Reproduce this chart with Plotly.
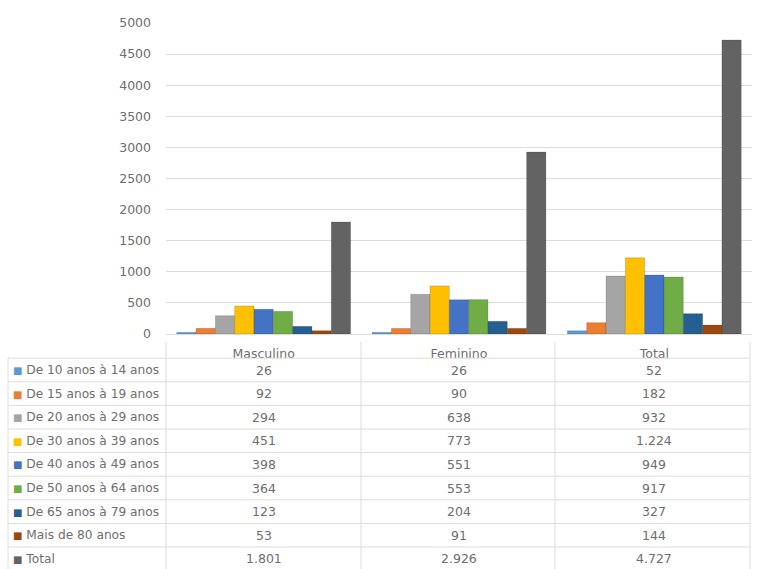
import plotly.graph_objects as go

categories = ["Masculino", "Feminino", "Total"]
series_names = [
    "De 10 anos à 14 anos",
    "De 15 anos à 19 anos",
    "De 20 anos à 29 anos",
    "De 30 anos à 39 anos",
    "De 40 anos à 49 anos",
    "De 50 anos à 64 anos",
    "De 65 anos à 79 anos",
    "Mais de 80 anos",
    "Total",
]
masculino = [26, 92, 294, 451, 398, 364, 123, 53, 1801]
feminino = [26, 90, 638, 773, 551, 553, 204, 91, 2926]
total = [52, 182, 932, 1224, 949, 917, 327, 144, 4727]
colors = ["#5B9BD5", "#ED7D31", "#A5A5A5", "#FFC000", "#4472C4",
          "#70AD47", "#255E91", "#9E480E", "#636363"]
y_ticks = [0, 500, 1000, 1500, 2000, 2500, 3000, 3500, 4000, 4500, 5000]

W, H = 757, 569
FONT = "DejaVu Sans"
TXT = "#6E6E6E"
GRID = "#DDDDDD"


def py(y):
    return 1 - y / H


def px(x):
    return x / W


def fmt(v):
    return f"{v:,}".replace(",", ".")


fig = go.Figure()
for i, name in enumerate(series_names):
    vals = [masculino[i], feminino[i], total[i]]
    fig.add_trace(go.Bar(
        x=categories, y=vals, name=name,
        marker=dict(color=colors[i], line=dict(color="rgba(0,0,0,0.25)", width=0.6)),
        showlegend=False,
    ))

plot_left, plot_right = 166, 752
plot_top, plot_bottom = 23, 334

fig.update_layout(
    template="none",
    width=W, height=H,
    margin=dict(l=0, r=0, t=0, b=0, pad=0),
    paper_bgcolor="white", plot_bgcolor="white",
    barmode="group", bargap=0.11, bargroupgap=0.0,
    font=dict(family=FONT, color=TXT, size=12),
    xaxis=dict(
        domain=[px(plot_left), px(plot_right)],
        automargin=False,
        showgrid=False, showline=False, zeroline=False,
        tickfont=dict(size=12.5, color=TXT, family=FONT),
        ticks="outside", ticklen=8, tickcolor="rgba(0,0,0,0)",
    ),
    yaxis=dict(
        domain=[py(plot_bottom), py(plot_top)],
        automargin=False,
        range=[0, 5000], tickvals=y_ticks,
        showgrid=True, gridcolor=GRID, gridwidth=1,
        zeroline=True, zerolinecolor=GRID, zerolinewidth=1,
        showline=False, ticks="",
        tickfont=dict(size=12.5, color=TXT, family=FONT),
        ticklabelstandoff=14,
    ),
)

# data table below the chart
row_y0 = 370
row_h = 23.6
table_left, table_right = 8, 750
col_edges = [166, 361, 555, 750]
header_top = 342

shapes = []
for k in range(len(series_names) + 1):
    yline = row_y0 - row_h / 2 + k * row_h
    shapes.append(dict(type="line", xref="paper", yref="paper",
                       x0=px(table_left), x1=px(table_right),
                       y0=py(yline), y1=py(yline),
                       line=dict(color=GRID, width=1)))
ybot = row_y0 - row_h / 2 + len(series_names) * row_h
for xe in col_edges:
    shapes.append(dict(type="line", xref="paper", yref="paper",
                       x0=px(xe), x1=px(xe), y0=py(header_top), y1=py(ybot),
                       line=dict(color=GRID, width=1)))
shapes.append(dict(type="line", xref="paper", yref="paper",
                   x0=px(table_left), x1=px(table_left),
                   y0=py(row_y0 - row_h / 2), y1=py(ybot),
                   line=dict(color=GRID, width=1)))

annotations = []
cols = [masculino, feminino, total]
for k, name in enumerate(series_names):
    yc = py(row_y0 + k * row_h)
    annotations.append(dict(
        xref="paper", yref="paper", x=px(11), y=yc, xanchor="left", yanchor="middle",
        text=f"<span style='color:{colors[k]};font-size:10px'>■</span> {name}",
        showarrow=False, font=dict(size=12.2, color=TXT, family=FONT),
    ))
    for c, cat in enumerate(categories):
        annotations.append(dict(
            xref="x", yref="paper", x=cat, y=yc, xanchor="center", yanchor="middle",
            text=fmt(cols[c][k]), showarrow=False,
            font=dict(size=12.5, color=TXT, family=FONT),
        ))

fig.update_layout(shapes=shapes, annotations=annotations)
fig.write_html(
    "out.html",
    config={"displayModeBar": False},
    post_script="document.body.style.margin='0';document.body.style.overflow='hidden';",
)
